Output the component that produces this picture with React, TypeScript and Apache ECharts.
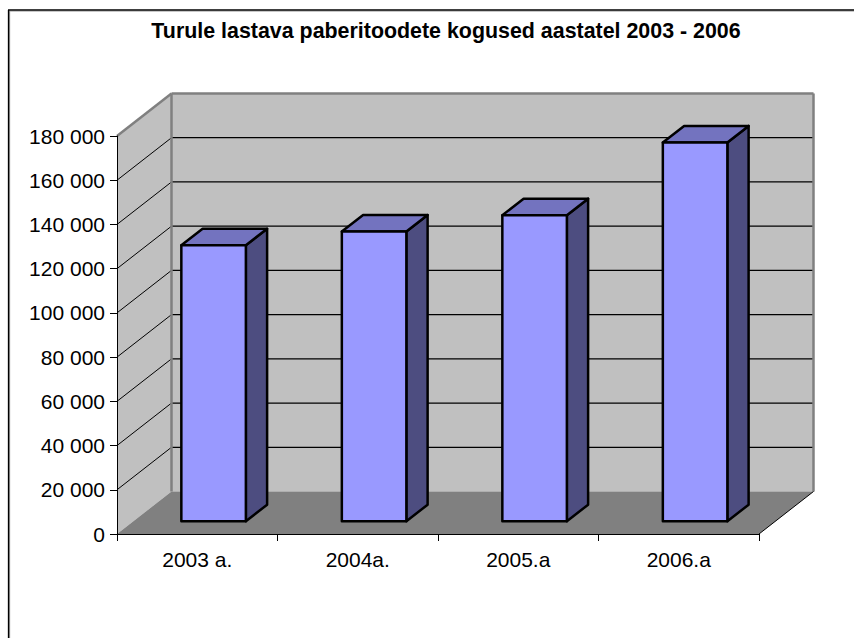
import React, { useEffect, useRef } from "react";
import * as echarts from "echarts";

const titleText = "Turule lastava paberitoodete kogused aastatel 2003 - 2006";
const categories = ["2003 a.", "2004a.", "2005.a", "2006.a"];
const values = [124800, 131000, 138400, 171300];
const gridValues = [20000, 40000, 60000, 80000, 100000, 120000, 140000, 160000, 180000];

const DEPTH_X = 54.5;
const DEPTH_Y = 42.5;
const BAR_RATIO = 0.402;
const BAR_Z0 = 0.3;
const BAR_Z1 = 0.69;

const poly = (points: number[][], style: any, z2 = 0) => ({
  type: "polygon",
  z2,
  shape: { points },
  style,
});
const seg = (x1: number, y1: number, x2: number, y2: number, stroke: string, lineWidth: number, z2 = 1) => ({
  type: "line",
  z2,
  shape: { x1, y1, x2, y2 },
  style: { stroke, lineWidth, fill: "none" },
});

export default function App() {
  const ref = useRef<HTMLDivElement>(null);
  useEffect(() => {
    const chart = echarts.init(ref.current!, undefined, { renderer: "svg" });
    const font = "'Liberation Sans', Arial, sans-serif";
    chart.setOption({
      animation: false,
      backgroundColor: "#ffffff",
      title: {
        text: titleText,
        left: 441,
        top: 15,
        textAlign: "center",
        textStyle: { fontFamily: font, fontSize: 21.4, fontWeight: "bold", color: "#000" },
      },
      grid: { left: 117, right: 95, top: 136, bottom: 104 },
      xAxis: {
        type: "category",
        data: categories,
        z: 10,
        axisLine: { lineStyle: { color: "#000", width: 1 } },
        axisTick: { show: true, length: 7, lineStyle: { color: "#000" } },
        axisLabel: { fontFamily: font, fontSize: 21, color: "#000", margin: 15 },
      },
      yAxis: {
        type: "value",
        min: 0,
        max: 180000,
        interval: 20000,
        z: 10,
        axisLine: { show: true, lineStyle: { color: "#000", width: 1 } },
        axisTick: { show: true, length: 7, lineStyle: { color: "#000" } },
        splitLine: { show: false },
        axisLabel: {
          fontFamily: font,
          fontSize: 21,
          color: "#000",
          margin: 12,
          padding: [0, 0, 2, 0],
          formatter: (v: number) => String(v).replace(/\B(?=(\d{3})+$)/g, "\u00a0"),
        },
      },
      series: [
        {
          type: "custom",
          z: 1,
          silent: true,
          coordinateSystem: "cartesian2d",
          data: [[0, 0]],
          encode: { x: 0, y: 1 },
          renderItem: (_: any, api: any) => {
            const band = api.size([1, 0])[0];
            const [xc, y0] = api.coord([0, 0]);
            const [, yTop] = api.coord([0, 180000]);
            const xL = xc - band / 2;
            const xR = xL + band * categories.length;
            const wall = { fill: "#c0c0c0", stroke: "none" };
            const gray = "#808080";
            const children: any[] = [
              poly([[xL + DEPTH_X, yTop - DEPTH_Y], [xR + DEPTH_X, yTop - DEPTH_Y], [xR + DEPTH_X, y0 - DEPTH_Y], [xL + DEPTH_X, y0 - DEPTH_Y]], wall),
              poly([[xL, yTop], [xL + DEPTH_X, yTop - DEPTH_Y], [xL + DEPTH_X, y0 - DEPTH_Y], [xL, y0]], wall),
              poly([[xL, y0], [xR, y0], [xR + DEPTH_X, y0 - DEPTH_Y], [xL + DEPTH_X, y0 - DEPTH_Y]], { fill: gray, stroke: "none" }),
            ];
            gridValues.slice(0, -1).forEach((v) => {
              const [, y] = api.coord([0, v]);
              children.push(seg(xL, y, xL + DEPTH_X, y - DEPTH_Y, "#000", 1));
              children.push(seg(xL + DEPTH_X, y - DEPTH_Y, xR + DEPTH_X, y - DEPTH_Y, "#000", 1.2));
            });
            children.push(seg(xL + DEPTH_X, yTop - DEPTH_Y, xL + DEPTH_X, y0 - DEPTH_Y, gray, 2.5, 2));
            children.push(seg(xR + DEPTH_X, yTop - DEPTH_Y, xR + DEPTH_X, y0 - DEPTH_Y, gray, 2.5, 2));
            children.push(seg(xL, yTop, xL + DEPTH_X, yTop - DEPTH_Y, gray, 2.5, 2));
            children.push(seg(xL + DEPTH_X, yTop - DEPTH_Y, xR + DEPTH_X, yTop - DEPTH_Y, gray, 2.5, 2));
            children.push(seg(xR, y0, xR + DEPTH_X, y0 - DEPTH_Y, "#000", 1, 2));
            return { type: "group", children };
          },
        },
        {
          type: "custom",
          z: 2,
          silent: true,
          coordinateSystem: "cartesian2d",
          data: values.map((v, i) => [i, v]),
          encode: { x: 0, y: 1 },
          renderItem: (_: any, api: any) => {
            const i = api.value(0);
            const v = api.value(1);
            const band = api.size([1, 0])[0];
            const [xc, yv] = api.coord([i, v]);
            const [, y0] = api.coord([i, 0]);
            const w = band * BAR_RATIO;
            const fx = xc - w / 2 + DEPTH_X * BAR_Z0;
            const fy = DEPTH_Y * BAR_Z0;
            const dx = DEPTH_X * (BAR_Z1 - BAR_Z0);
            const dy = DEPTH_Y * (BAR_Z1 - BAR_Z0);
            const b = y0 - fy;
            const t = yv - fy;
            const line = { stroke: "#000", lineWidth: 2.5, lineJoin: "round" };
            return {
              type: "group",
              children: [
                poly([[fx + w, t], [fx + w + dx, t - dy], [fx + w + dx, b - dy], [fx + w, b]], { fill: "#4d4d80", ...line }, 1),
                poly([[fx, t], [fx + dx, t - dy], [fx + w + dx, t - dy], [fx + w, t]], { fill: "#7373bf", ...line }, 1),
                poly([[fx, t], [fx + w, t], [fx + w, b], [fx, b]], { fill: "#9999ff", ...line }, 2),
              ],
            };
          },
        },
      ],
      graphic: [
        { type: "line", shape: { x1: 10, y1: 11.2, x2: 854, y2: 11.2 }, style: { stroke: "#b0b0b0", lineWidth: 1 } },
        { type: "line", shape: { x1: 9.7, y1: 11, x2: 9.7, y2: 638 }, style: { stroke: "#b0b0b0", lineWidth: 1 } },
        { type: "line", shape: { x1: 8, y1: 10, x2: 854, y2: 10 }, style: { stroke: "#000", lineWidth: 1.5 } },
        { type: "line", shape: { x1: 8.6, y1: 10, x2: 8.6, y2: 638 }, style: { stroke: "#000", lineWidth: 1.5 } },
      ],
    });
    return () => chart.dispose();
  }, []);
  return <div ref={ref} style={{ position: "absolute", left: 0, top: 0, width: 854, height: 638 }} />;
}
